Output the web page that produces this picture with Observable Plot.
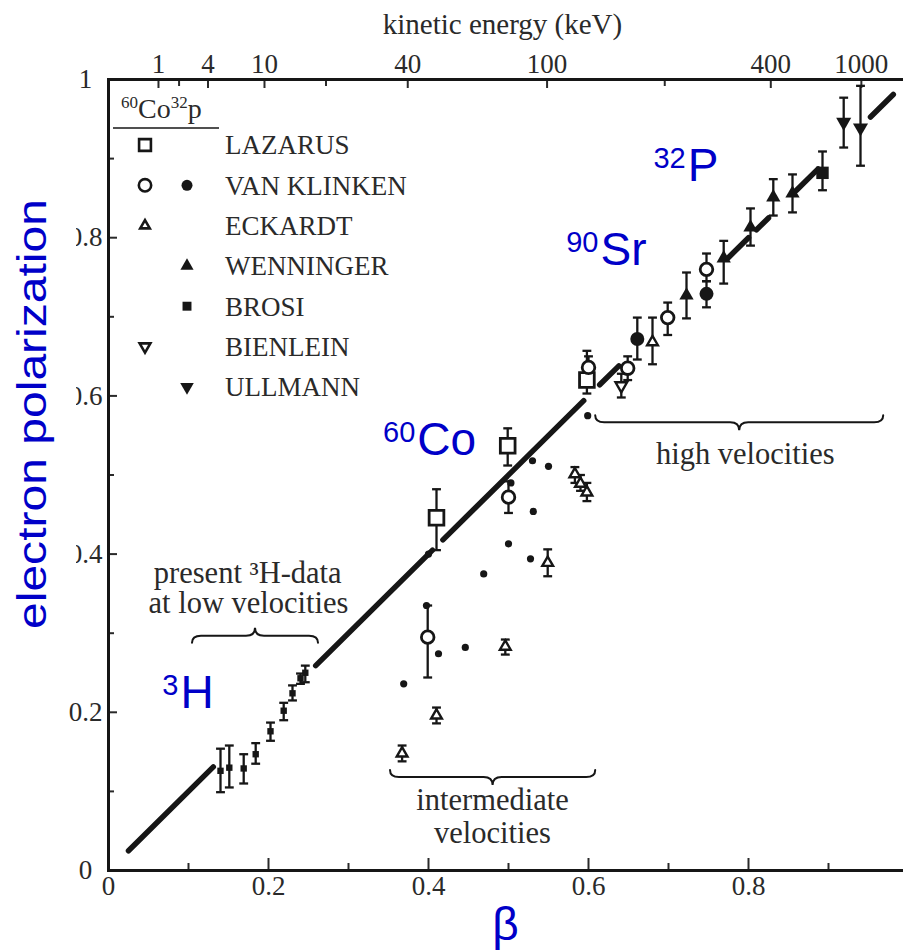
<!DOCTYPE html>
<html><head><meta charset="utf-8">
<script src="https://cdn.jsdelivr.net/npm/d3@7"></script>
<script src="https://cdn.jsdelivr.net/npm/@observablehq/plot@0.6"></script>
<style>
html,body{margin:0;padding:0;background:#fff;overflow:hidden;}
#chart{position:relative;width:903px;height:950px;overflow:hidden;}
#chart svg{max-width:none !important;}
</style></head><body><div id="chart"></div>
<script>
// ---------------- data (β, P, lower, upper) ----------------
const lazarus   = [[0.41,0.446,0.405,0.482],[0.499,0.537,0.512,0.559],[0.598,0.620,0.603,0.657]];
const vanKlinkenOpen = [[0.399,0.295,0.244,0.335],[0.500,0.472,0.452,0.492],[0.600,0.636,0.625,0.650],
  [0.649,0.635,0.620,0.650],[0.699,0.699,0.677,0.718],[0.7475,0.760,0.745,0.780]];
const vanKlinkenFilled = [[0.661,0.672,0.646,0.699],[0.7475,0.729,0.712,0.745]];
const eckardt = [[0.367,0.148,0.138,0.158],[0.41,0.196,0.186,0.206],[0.496,0.283,0.273,0.292],
  [0.549,0.389,0.372,0.406],[0.583,0.501,0.490,0.510],[0.590,0.489,0.480,0.500],[0.598,0.478,0.467,0.490],
  [0.680,0.668,0.640,0.699]];
const bienlein = [[0.641,0.613,0.598,0.628]];
const wenninger = [[0.7225,0.727,0.698,0.756],[0.769,0.774,0.742,0.796],[0.8025,0.813,0.790,0.837],
  [0.831,0.851,0.828,0.874],[0.855,0.856,0.832,0.880]];
const brosi = [[0.8925,0.882,0.860,0.909]];
const ullmann = [[0.919,0.946,0.914,0.977],[0.940,0.939,0.891,0.992]];
const tritium = [[0.140,0.126,0.099,0.154],[0.151,0.130,0.105,0.158],[0.169,0.129,0.110,0.147],
  [0.184,0.147,0.135,0.161],[0.2025,0.176,0.164,0.187],[0.219,0.202,0.190,0.212],[0.230,0.224,0.215,0.234],
  [0.240,0.243,0.236,0.249],[0.246,0.250,0.238,0.259]];
const smallDots = [[0.369,0.236],[0.3975,0.335],[0.4125,0.274],[0.446,0.282],[0.469,0.375],[0.500,0.413],
  [0.5275,0.394],[0.531,0.454],[0.530,0.518],[0.550,0.511],[0.599,0.575],[0.503,0.490],[0.400,0.400]];
// theory line P = β, drawn in pieces (start β/P, end β/P)
const theoryStart = [[0.025,0.025],[0.259,0.259],[0.418,0.418],[0.614,0.614],[0.775,0.775],[0.810,0.810],[0.860,0.860],[0.9525,0.9525]];
const theoryEnd   = [[0.131,0.131],[0.405,0.405],[0.594,0.594],[0.638,0.638],[0.800,0.800],[0.825,0.825],[0.887,0.887],[0.981,0.981]];

// axes
const xMajor = [0,0.2,0.4,0.6,0.8,1];
const xMinor = [0.1,0.3,0.5,0.7,0.9];
const yMajor = [0,0.2,0.4,0.6,0.8,1];
const yMinor = [0.1,0.3,0.5,0.7,0.9];
const keVMajor = [1,4,10,40,100,400,1000];
const keVMinor = [2,20,200];

// annotations
const isotopes = [{sup:"3",el:"H",b:0.09,p:0.205},{sup:"60",el:"Co",b:0.386,p:0.525},
  {sup:"90",el:"Sr",b:0.615,p:0.765},{sup:"32",el:"P",b:0.724,p:0.872}];
const notes = [{t:"present \u00B3H-data",b:0.174,p:0.364},{t:"at low velocities",b:0.175,p:0.325},
  {t:"high velocities",b:0.796,p:0.5145},{t:"intermediate",b:0.48,p:0.076},{t:"velocities",b:0.48,p:0.035}];
const braces = [{from:0.105,to:0.2625,level:0.296,tip:"up"},{from:0.3525,to:0.609,level:0.1176,tip:"down"},
  {from:0.609,to:0.969,level:0.566,tip:"down"}];

const legendNames  = ["LAZARUS","VAN KLINKEN","ECKARDT","WENNINGER","BROSI","BIENLEIN","ULLMANN"];
const legendCo60   = ["square","circle","triangle",null,null,"down",null];
const legendP32    = [null,"circle",null,"triangle","square",null,"down"];

// ---------------- helpers ----------------
const ink = "#161616", txt = "#2a2a2a", blue = "#0000c8";
const serif = "'Liberation Serif','Times New Roman',serif";
const sans = "'Liberation Sans',Arial,sans-serif";
const betaOfKeV = T => { const g = 1 + T/511; return Math.sqrt(1 - 1/(g*g)); };
const rows = a => a.map(([b,p,lo,hi]) => ({b,p,lo,hi}));
const s3 = Math.sqrt(3);
const downTri = {draw(c, size){ const y = -Math.sqrt(size/(s3*3)); c.moveTo(0,-2*y); c.lineTo(s3*y,y); c.lineTo(-s3*y,y); c.closePath(); }};
const cap = {draw(c, size){ const w = Math.sqrt(size)/2; c.moveTo(-w,0); c.lineTo(w,0); }};
const fmt = d => (d===0||d===1) ? String(d) : d.toFixed(1);
const keVLabel = d => { const T = keVMajor.find(T => Math.abs(betaOfKeV(T)-d) < 1e-9); return T==null ? "" : String(T); };

const errRows = [lazarus,vanKlinkenOpen,vanKlinkenFilled,eckardt,bienlein,wenninger,brosi,ullmann,tritium].flatMap(rows);
const segs = theoryStart.map((s,i) => ({b0:s[0],p0:s[1],b1:theoryEnd[i][0],p1:theoryEnd[i][1]}));
const dots = smallDots.map(([b,p]) => ({b,p}));

const plot = Plot.plot({
  width: 930, height: 950,
  marginLeft: 108, marginRight: 22, marginTop: 79, marginBottom: 80,
  x: {domain:[0,1]}, y: {domain:[0,1]},
  style: {fontFamily: serif, fontSize: "27px", color: txt, background: "white", overflow: "visible", maxWidth: "none"},
  marks: [
    Plot.axisX({anchor:"bottom", ticks:xMajor, tickSize:0, tickPadding:5, tickFormat:fmt, fontSize:27}),
    Plot.axisX({anchor:"bottom", ticks:xMajor, tickSize:-12, tickFormat:()=>"", strokeWidth:2}),
    Plot.axisX({anchor:"bottom", ticks:xMinor, tickSize:-7, tickFormat:()=>"", strokeWidth:2}),
    Plot.axisX({anchor:"top", ticks:keVMajor.map(betaOfKeV), tickSize:0, tickPadding:7, tickFormat:keVLabel, fontSize:27}),
    Plot.axisX({anchor:"top", ticks:keVMajor.map(betaOfKeV), tickSize:-8, tickFormat:()=>"", strokeWidth:2}),
    Plot.axisX({anchor:"top", ticks:keVMinor.map(betaOfKeV), tickSize:-6, tickFormat:()=>"", strokeWidth:2}),
    Plot.axisY({anchor:"left", ticks:yMajor, tickSize:0, tickPadding:23, textAnchor:"middle", tickFormat:fmt, fontSize:27}),
    Plot.axisY({anchor:"left", ticks:yMajor, tickSize:-9, tickFormat:()=>"", strokeWidth:2}),
    Plot.axisY({anchor:"left", ticks:yMinor, tickSize:-6, tickFormat:()=>"", strokeWidth:2}),
    Plot.frame({stroke: ink, strokeWidth: 3}),
    // theory line
    Plot.link(segs, {x1:"b0", y1:"p0", x2:"b1", y2:"p1", stroke:ink, strokeWidth:5.5, strokeLinecap:"round"}),
    // error bars
    Plot.ruleX(errRows, {x:"b", y1:"lo", y2:"hi", stroke:ink, strokeWidth:2.3}),
    Plot.dot(errRows, {x:"b", y:"lo", symbol:cap, r:5, stroke:ink, strokeWidth:2.3, fill:"none"}),
    Plot.dot(errRows, {x:"b", y:"hi", symbol:cap, r:5, stroke:ink, strokeWidth:2.3, fill:"none"}),
    // markers
    Plot.dot(rows(tritium), {x:"b", y:"p", symbol:"square", r:3.6, fill:ink}),
    Plot.dot(dots, {x:"b", y:"p", r:3.6, fill:ink}),
    Plot.dot(rows(lazarus), {x:"b", y:"p", symbol:"square", r:8.3, fill:"white", stroke:ink, strokeWidth:2.8}),
    Plot.dot(rows(vanKlinkenOpen), {x:"b", y:"p", r:6.3, fill:"white", stroke:ink, strokeWidth:2.8}),
    Plot.dot(rows(vanKlinkenFilled), {x:"b", y:"p", r:7, fill:ink}),
    Plot.dot(rows(eckardt), {x:"b", y:"p", symbol:"triangle", r:4, fill:"white", stroke:ink, strokeWidth:2.4}),
    Plot.dot(rows(bienlein), {x:"b", y:"p", symbol:downTri, r:4.3, fill:"white", stroke:ink, strokeWidth:2.4}),
    Plot.dot(rows(wenninger), {x:"b", y:"p", symbol:"triangle", r:5.3, fill:ink}),
    Plot.dot(rows(brosi), {x:"b", y:"p", symbol:"square", r:7, fill:ink}),
    Plot.dot(rows(ullmann), {x:"b", y:"p", symbol:downTri, r:5.6, fill:ink}),
    // annotations
    Plot.text(notes, {x:"b", y:"p", text:"t", textAnchor:"middle", lineAnchor:"bottom", fontSize:30.5, fill:txt, fontFamily:serif}),
    Plot.text(isotopes, {x:"b", y:"p", text:"el", textAnchor:"start", lineAnchor:"bottom", fontSize:46, fill:blue, fontFamily:sans}),
    Plot.text(isotopes, {x:"b", y:"p", text:"sup", textAnchor:"end", lineAnchor:"bottom", fontSize:29, dx:-2, dy:-13, fill:blue, fontFamily:sans}),
    Plot.text(["kinetic energy (keV)"], {frameAnchor:"top", lineAnchor:"bottom", dy:-46, dx:-6, fontSize:29, fill:txt, fontFamily:serif}),
    Plot.text(["\u03B2"], {frameAnchor:"bottom", lineAnchor:"middle", dy:55, dx:-3, fontSize:46, fill:blue, fontFamily:sans}),
    Plot.text(["electron polarization"], {frameAnchor:"left", rotate:-90, dx:-75, dy:-61, lineAnchor:"middle", textAnchor:"middle", fontSize:40, fill:blue, fontFamily:sans})
  ]
});
document.getElementById("chart").append(plot);

// ---------------- post: braces, legend, y-label stretch ----------------
const svg = d3.select(plot);
const sx = plot.scale("x"), sy = plot.scale("y");
const X = v => sx.apply(v), Y = v => sy.apply(v);

const gb = svg.append("g").attr("fill","none").attr("stroke",ink).attr("stroke-width",2).attr("stroke-linecap","round");
braces.forEach(br => {
  const x1 = X(br.from), x2 = X(br.to), y = Y(br.level), xm = (x1+x2)/2, d = br.tip === "down" ? 1 : -1;
  const e = 7, t = 8, r = 9;
  gb.append("path").attr("d",
    `M${x1},${y-d*e} Q${x1},${y} ${x1+r},${y} L${xm-r},${y} Q${xm},${y} ${xm},${y+d*t} Q${xm},${y} ${xm+r},${y} L${x2-r},${y} Q${x2},${y} ${x2},${y-d*e}`);
});

// y label: white patch + stretched text
svg.selectAll("text").filter(function(){ return this.textContent === "electron polarization"; })
  .attr("textLength", 430).attr("lengthAdjust", "spacingAndGlyphs")
  .each(function(){
    const grp = this.closest("g[aria-label='text']") || this.parentNode;
    const rect = document.createElementNS("http://www.w3.org/2000/svg","rect");
    rect.setAttribute("x",0); rect.setAttribute("y",190); rect.setAttribute("width",76); rect.setAttribute("height",445);
    rect.setAttribute("fill","white");
    grp.parentNode.insertBefore(rect, grp);
  });

// legend (inside the frame, top-left)
const lg = svg.append("g").attr("font-family", serif).attr("fill", txt).attr("text-anchor","start");
const L = {x: X(0), y: Y(1)};
const head = lg.append("text").attr("x", L.x+13).attr("y", L.y+39).attr("font-size", 28);
head.append("tspan").text("60").attr("font-size",17).attr("dy",-10);
head.append("tspan").text("Co").attr("dy",10);
head.append("tspan").text("32").attr("font-size",17).attr("dy",-10);
head.append("tspan").text("p").attr("dy",10);
lg.append("line").attr("x1",L.x+5).attr("x2",L.x+111).attr("y1",L.y+49).attr("y2",L.y+49).attr("stroke",ink).attr("stroke-width",1.5);
const symType = {square:d3.symbolSquare, circle:d3.symbolCircle, triangle:d3.symbolTriangle, down:downTri};
const symSize = {square:[140,80], circle:[120,95], triangle:[40,75], down:[50,80]};
legendNames.forEach((name,i) => {
  const cy = L.y + 66 + i*40.3;
  lg.append("text").attr("x", L.x+117).attr("y", cy).attr("dy","0.35em").attr("font-size",27).text(name);
  if (legendCo60[i]) lg.append("path").attr("transform",`translate(${L.x+37},${cy})`)
     .attr("d", d3.symbol(symType[legendCo60[i]], symSize[legendCo60[i]][0])())
     .attr("fill","white").attr("stroke",ink).attr("stroke-width",2.6);
  if (legendP32[i]) lg.append("path").attr("transform",`translate(${L.x+79},${cy})`)
     .attr("d", d3.symbol(symType[legendP32[i]], symSize[legendP32[i]][1])())
     .attr("fill",ink);
});
</script></body></html>
